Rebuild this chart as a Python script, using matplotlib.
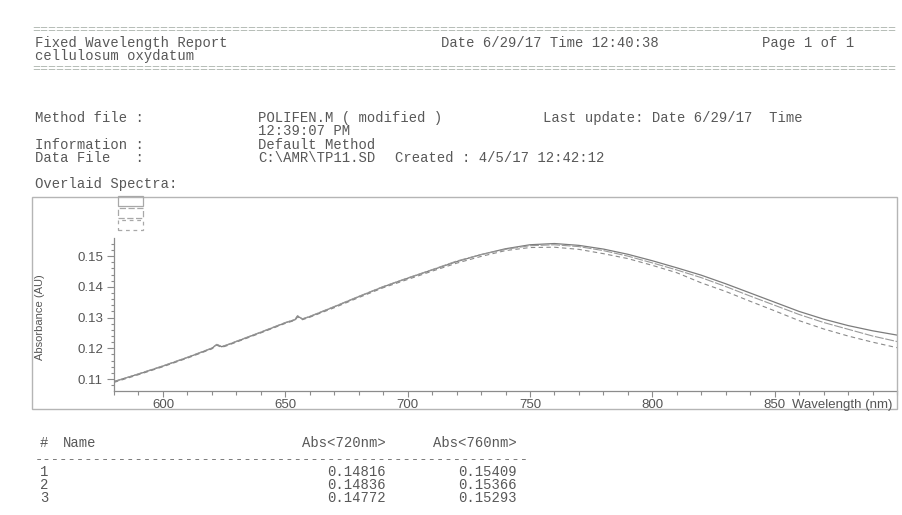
import matplotlib
matplotlib.use("Agg")
import matplotlib.pyplot as plt
from matplotlib.patches import Rectangle
from matplotlib.ticker import MultipleLocator

W, H = 903, 515

# spectra (nm, AU)
wavelength = [580, 590, 600, 610, 620, 622, 624, 626, 630, 640, 650, 654, 655,
              657, 660, 670, 680, 690, 700, 710, 720, 730, 740, 750, 760, 770,
              780, 790, 800, 810, 820, 830, 840, 850, 860, 870, 880, 890, 900]
spec1 = [0.1092, 0.1116, 0.1142, 0.1170, 0.1200, 0.1212, 0.1205, 0.1210, 0.1222,
         0.1252, 0.1283, 0.1293, 0.1305, 0.1295, 0.1303, 0.1335, 0.1368, 0.1400,
         0.1428, 0.1455, 0.1482, 0.1505, 0.1524, 0.1537, 0.1541, 0.1535, 0.1523,
         0.1506, 0.1485, 0.1462, 0.1438, 0.1410, 0.1380, 0.1350, 0.1320, 0.1295,
         0.1274, 0.1257, 0.1243]
spec2 = [0.1091, 0.1117, 0.1143, 0.1171, 0.1201, 0.1213, 0.1206, 0.1211, 0.1223,
         0.1253, 0.1284, 0.1294, 0.1306, 0.1296, 0.1304, 0.1336, 0.1369, 0.1401,
         0.1429, 0.1456, 0.1484, 0.1505, 0.1522, 0.1534, 0.1537, 0.1531, 0.1518,
         0.1500, 0.1478, 0.1455, 0.1430, 0.1401, 0.1370, 0.1340, 0.1310, 0.1284,
         0.1262, 0.1240, 0.1222]
spec3 = [0.1089, 0.1114, 0.1140, 0.1168, 0.1198, 0.1210, 0.1203, 0.1208, 0.1220,
         0.1250, 0.1281, 0.1291, 0.1302, 0.1293, 0.1301, 0.1332, 0.1365, 0.1397,
         0.1424, 0.1451, 0.1477, 0.1499, 0.1518, 0.1528, 0.1529, 0.1522, 0.1508,
         0.1492, 0.1470, 0.1446, 0.1413, 0.1385, 0.1353, 0.1322, 0.1290, 0.1263,
         0.1240, 0.1220, 0.1202]

x_ticks = [600, 650, 700, 750, 800, 850]
y_ticks = [0.11, 0.12, 0.13, 0.14, 0.15]

rows = ["1", "2", "3"]
abs720 = ["0.14816", "0.14836", "0.14772"]
abs760 = ["0.15409", "0.15366", "0.15293"]

MONO = "Liberation Mono"
SANS = "Liberation Sans"
txt_col = "#585858"
line_col = "#7c7c7c"


def fx(x):
    return x / W


def fy(y):
    return 1 - y / H


fig = plt.figure(figsize=(W / 100, H / 100), dpi=100)
fig.patch.set_facecolor("white")


def mono(x, y, s, ha="left", color=txt_col, size=10):
    fig.text(fx(x), fy(y), s, ha=ha, va="center", family=MONO, size=size,
             color=color)


# header block
mono(32, 30, "=" * 108, color="#aab3ab", size=9.6)
mono(35, 43, "Fixed Wavelength Report")
mono(441, 43, "Date 6/29/17 Time 12:40:38")
mono(762, 43, "Page 1 of 1")
mono(35, 56, "cellulosum oxydatum")
mono(32, 69, "=" * 108, color="#aab3ab", size=9.6)

mono(35, 118, "Method file :")
mono(258, 118, "POLIFEN.M ( modified )")
mono(543, 118, "Last update: Date 6/29/17  Time")
mono(258, 131, "12:39:07 PM")
mono(35, 145, "Information :")
mono(258, 145, "Default Method")
mono(35, 158, "Data File   :")
mono(258, 158, "C:\\AMR\\TP11.SD")
mono(395, 158, "Created : 4/5/17 12:42:12")
mono(35, 184, "Overlaid Spectra:")

# outer frame of the plot
fig.patches.append(Rectangle((fx(32), fy(409)), fx(897) - fx(32), fy(197) - fy(409),
                             transform=fig.transFigure, fill=False,
                             edgecolor="#b5b5b5", lw=1.0))

# legend symbols (no text)
for y0, ls in [(196, "-"), (208, (0, (5, 2))), (220, (0, (3, 3)))]:
    fig.patches.append(Rectangle((fx(118), fy(y0 + 10)), fx(143) - fx(118),
                                 fy(y0) - fy(y0 + 10), transform=fig.transFigure,
                                 fill=False, edgecolor="#a8a8a8", lw=0.9,
                                 linestyle=ls))

ax = fig.add_axes([fx(114), fy(391), fx(897) - fx(114), fy(238) - fy(391)])
ax.patch.set_alpha(0)
ax.plot(wavelength, spec1, color=line_col, lw=0.9, ls="-")
ax.plot(wavelength, spec2, color="#9a9a9a", lw=0.8, ls=(0, (8, 1.5)))
ax.plot(wavelength, spec3, color="#8a8a8a", lw=0.8, ls=(0, (4, 3)))

ax.set_xlim(580, 900)
ax.set_ylim(0.1061, 0.1559)
ax.set_xticks(x_ticks)
ax.set_yticks(y_ticks)
ax.set_yticklabels([f"{v:.2f}" for v in y_ticks])
ax.xaxis.set_minor_locator(MultipleLocator(10))
ax.yaxis.set_minor_locator(MultipleLocator(0.002))

for side in ["top", "right"]:
    ax.spines[side].set_visible(False)
for side in ["left", "bottom"]:
    ax.spines[side].set_color("#8c8c8c")
    ax.spines[side].set_linewidth(0.9)

ax.tick_params(axis="both", which="both", direction="out", colors="#8c8c8c",
               labelcolor="#555555", labelsize=9.5, width=0.8)
ax.tick_params(axis="x", which="major", length=4, pad=2)
ax.tick_params(axis="x", which="minor", length=3)
ax.tick_params(axis="y", which="major", length=5, pad=3)
ax.tick_params(axis="y", which="minor", length=2.5)
for lab in ax.get_xticklabels() + ax.get_yticklabels():
    lab.set_family(SANS)

fig.text(fx(792), fy(405), "Wavelength (nm)", ha="left", va="center",
         family=SANS, size=9.5, color="#555555")
fig.text(fx(40), fy(317), "Absorbance (AU)", ha="center", va="center",
         rotation=90, family=SANS, size=8, color="#555555")

# result table
mono(40, 443, "#")
mono(63, 443, "Name")
mono(386, 443, "Abs<720nm>", ha="right")
mono(517, 443, "Abs<760nm>", ha="right")
mono(35, 459, "-" * 59, color="#7a7a7a")
for i, r in enumerate(rows):
    y = 472 + 13 * i
    mono(40, y, r)
    mono(386, y, abs720[i], ha="right")
    mono(517, y, abs760[i], ha="right")

fig.savefig("out.png", dpi=100)
